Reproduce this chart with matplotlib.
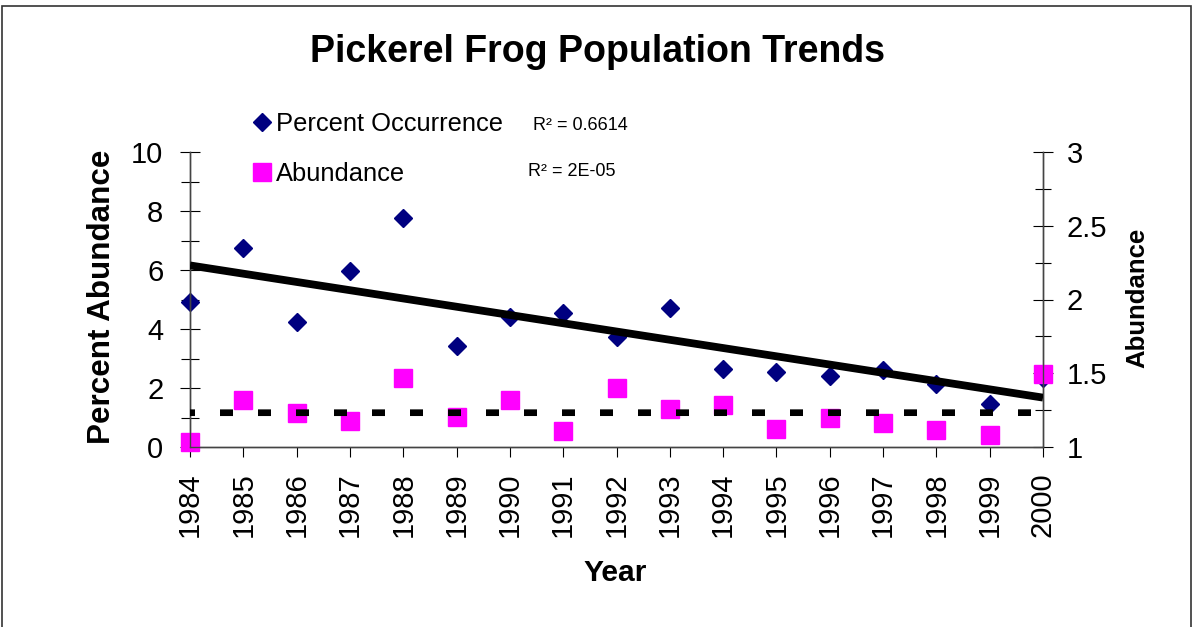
import numpy as np
import matplotlib
matplotlib.use("Agg")
import matplotlib.pyplot as plt
from matplotlib.patches import Rectangle
from matplotlib.ticker import MultipleLocator

plt.rcParams['font.family'] = ['Liberation Sans', 'DejaVu Sans']

# data
years = list(range(1984, 2001))
percent_occurrence = [4.90, 6.73, 4.24, 5.97, 7.75, 3.43, 4.42, 4.53, 3.72,
                      4.72, 2.65, 2.55, 2.42, 2.61, 2.12, 1.45, 2.34]
abundance = [1.032, 1.318, 1.228, 1.176, 1.466, 1.205, 1.318, 1.108, 1.397,
             1.259, 1.282, 1.124, 1.194, 1.160, 1.113, 1.081, 1.493]
left_ticks = [0, 2, 4, 6, 8, 10]
right_ticks = [1, 1.5, 2, 2.5, 3]
r2_labels = ["R\u00b2 = 0.6614", "R\u00b2 = 2E-05"]

W, H = 1192, 627
fig = plt.figure(figsize=(W / 100, H / 100), dpi=100)
ax = fig.add_axes([190 / W, 1 - 447 / H, (1043 - 190) / W, (447 - 152) / H])
ax2 = ax.twinx()

# outer chart border
fig.patches.append(Rectangle((2 / W, -0.02), (1191 - 2) / W, 1.02 - 6 / H,
                             transform=fig.transFigure, fill=False,
                             edgecolor='#333333', lw=1.2))

x = np.array(years)
ax.plot(x, percent_occurrence, linestyle='none', marker='D', ms=9.6,
        color='#000080', clip_on=False, label='Percent Occurrence')
ax2.plot(x, abundance, linestyle='none', marker='s', ms=13.6,
         color='#FF00FF', clip_on=False, label='Abundance', zorder=2)

# linear trendlines
p1 = np.polyfit(x, percent_occurrence, 1)
ax2.plot(x, np.polyval(p1, x), color='black', lw=5.6, transform=ax.transData,
         solid_capstyle='butt', zorder=3)
p2 = np.polyfit(x, abundance, 1)
ax2.plot(x, np.polyval(p2, x), color='black', lw=4.8, linestyle=(1.2, (1.95, 3.75)),
         dash_capstyle='butt', zorder=3)

ax.set_xlim(1984, 2000)
ax.set_ylim(0, 10)
ax2.set_ylim(1, 3)
ax.set_xticks(years)
ax.set_xticklabels([str(y) for y in years], rotation=90)
ax.set_yticks(left_ticks)
ax.yaxis.set_minor_locator(MultipleLocator(1))
ax2.set_yticks(right_ticks)
ax2.set_yticklabels(['1', '1.5', '2', '2.5', '3'])
ax2.yaxis.set_minor_locator(MultipleLocator(0.25))

for a in (ax, ax2):
    a.spines['top'].set_visible(False)
    for s in a.spines.values():
        s.set_color('#444444')
        s.set_linewidth(1.0)
ax.tick_params(axis='x', direction='out', length=7.2, width=0.8, pad=11,
               labelsize=21, colors='black')
ax.tick_params(axis='y', which='major', direction='inout', length=14.4, width=0.8,
               pad=12, labelsize=21)
ax.tick_params(axis='y', which='minor', direction='inout', length=13, width=0.8)
ax2.tick_params(axis='y', which='major', direction='inout', length=14.4, width=0.8,
                pad=10, labelsize=21)
ax2.tick_params(axis='y', which='minor', direction='inout', length=11.5, width=0.8)

fig.text(597 / W, 1 - 52 / H, 'Pickerel Frog Population Trends', ha='center',
         va='center', fontsize=27, fontweight='bold')
fig.text(102 / W, 1 - 297 / H, 'Percent Abundance', rotation=90, ha='center',
         va='center', fontsize=22.6, fontweight='bold')
fig.text(1137 / W, 1 - 298 / H, 'Abundance', rotation=90, ha='center',
         va='center', fontsize=18.5, fontweight='bold')
fig.text(615 / W, 1 - 573 / H, 'Year', ha='center', va='center',
         fontsize=21.6, fontweight='bold')

h1, l1 = ax.get_legend_handles_labels()
h2, l2 = ax2.get_legend_handles_labels()
ax2.legend(h1 + h2, l1 + l2, loc='upper left', bbox_to_anchor=(254 / W, 1 - 112 / H),
           bbox_transform=fig.transFigure, frameon=False, fontsize=18.4,
           handlelength=0.6, handletextpad=0.25, labelspacing=1.02,
           borderpad=0, borderaxespad=0)

fig.text(533 / W, 1 - 125 / H, r2_labels[0], ha='left', va='center', fontsize=13)
fig.text(528 / W, 1 - 172 / H, r2_labels[1], ha='left', va='center', fontsize=13)

fig.savefig('out.png', dpi=100)
